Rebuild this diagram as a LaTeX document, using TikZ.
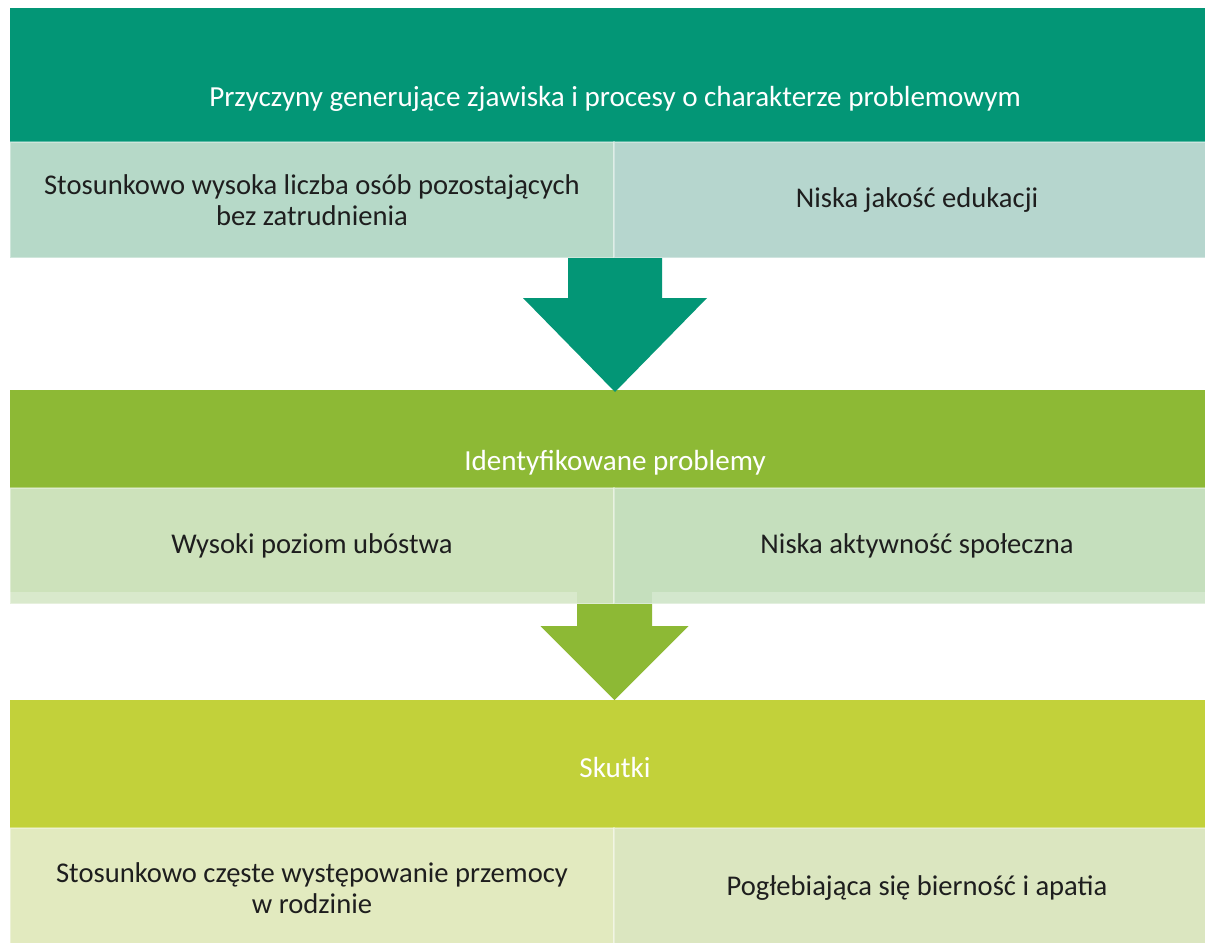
\documentclass[tikz,border=0pt]{standalone}
\usepackage{fontspec}
\setmainfont{Carlito}
\usetikzlibrary{positioning,calc}
\definecolor{bandA}{RGB}{3,150,118}
\definecolor{bandB}{RGB}{141,185,53}
\definecolor{bandC}{RGB}{194,209,58}
\definecolor{cellAL}{RGB}{182,217,200}
\definecolor{cellAR}{RGB}{182,214,206}
\definecolor{cellBL}{RGB}{205,226,187}
\definecolor{cellBR}{RGB}{197,223,189}
\definecolor{cellCL}{RGB}{226,234,191}
\definecolor{cellCR}{RGB}{219,230,192}
\definecolor{txtdark}{RGB}{30,30,30}
\tikzset{
  every picture/.style={x=1bp, y=-1bp},
  sband/.style={rectangle, inner sep=0pt, outer sep=0pt, minimum width=1210bp},
  stitle/.style={inner sep=0pt, text=white, font=\fontsize{29.2}{31}\selectfont},
  scell/.style={rectangle, inner sep=0pt, outer sep=0pt, align=center,
                text=txtdark, font=\fontsize{28.7}{31}\selectfont,
                draw=white, draw opacity=0.35, line width=2bp},
  sstrip/.style={fill=white, fill opacity=0.25},
}

\begin{document}
\begin{tikzpicture}
  \useasboundingbox[fill=white] (0,0) rectangle (1205,943);
  \clip (0,0) rectangle (1205,943);
  % przyczyny
  \node[sband, fill=bandA, minimum height=134bp] (band1) at (615,75) {};
  \node[stitle] (t1) at ($(band1.south)+(0,-43)$)
        {Przyczyny generujące zjawiska i procesy o charakterze problemowym};
  \node[scell, fill=cellAL, minimum width=604bp, minimum height=116bp,
        below right=0pt and 0pt of band1.south west] (c1L)
        {Stosunkowo wysoka liczba osób pozostających\\bez zatrudnienia};
  \node[scell, fill=cellAR, minimum width=606bp, minimum height=116bp,
        right=0pt of c1L] (c1R) {Niska jakość edukacji};
  % problemy
  \node[sband, fill=bandB, minimum height=98bp] (band2) at (615,439) {};
  \node[stitle] (t2) at ($(band2.south)+(0,-25)$) {Identyfikowane problemy};
  \node[scell, fill=cellBL, minimum width=604bp, minimum height=116bp,
        below right=0pt and 0pt of band2.south west] (c2L) {Wysoki poziom ubóstwa};
  \node[scell, fill=cellBR, minimum width=606bp, minimum height=116bp,
        right=0pt of c2L] (c2R) {Niska aktywność społeczna};
  \fill[sstrip] ($(c2L.south west)+(0,-12)$) rectangle ($(c2L.south east)+(-37,0)$);
  \fill[sstrip] ($(c2L.south east)+(38,-12)$) rectangle (c2R.south east);
  % skutki
  \node[sband, fill=bandC, minimum height=128bp] (band3) at (615,764) {};
  \node[stitle] (t3) at ($(band3.south)+(0,-61)$) {Skutki};
  \node[scell, fill=cellCL, minimum width=604bp, minimum height=120bp,
        below right=0pt and 0pt of band3.south west] (c3L)
        {Stosunkowo częste występowanie przemocy\\w rodzinie};
  \node[scell, fill=cellCR, minimum width=606bp, minimum height=120bp,
        right=0pt of c3L] (c3R) {Pogłebiająca się bierność i apatia};
  % strzalki
  \coordinate (a1top) at ($(c1L.south east)+(1,0)$);
  \coordinate (a1tip) at ($(band2.north -| a1top)+(0,2)$);
  \fill[bandA] ($(a1top)+(-47,0)$) -- ($(a1top)+(47,0)$) -- ($(a1top)+(47,40)$)
        -- ($(a1top)+(92,40)$) -- (a1tip) -- ($(a1top)+(-92,40)$)
        -- ($(a1top)+(-47,40)$) -- cycle;
  \coordinate (a2top) at ($(c2L.south east)+(0.5,0)$);
  \coordinate (a2tip) at (band3.north -| a2top);
  \fill[bandB] ($(a2top)+(-37.5,0)$) -- ($(a2top)+(37.5,0)$) -- ($(a2top)+(37.5,22)$)
        -- ($(a2top)+(74,22)$) -- (a2tip) -- ($(a2top)+(-74,22)$)
        -- ($(a2top)+(-37.5,22)$) -- cycle;
\end{tikzpicture}
\end{document}
